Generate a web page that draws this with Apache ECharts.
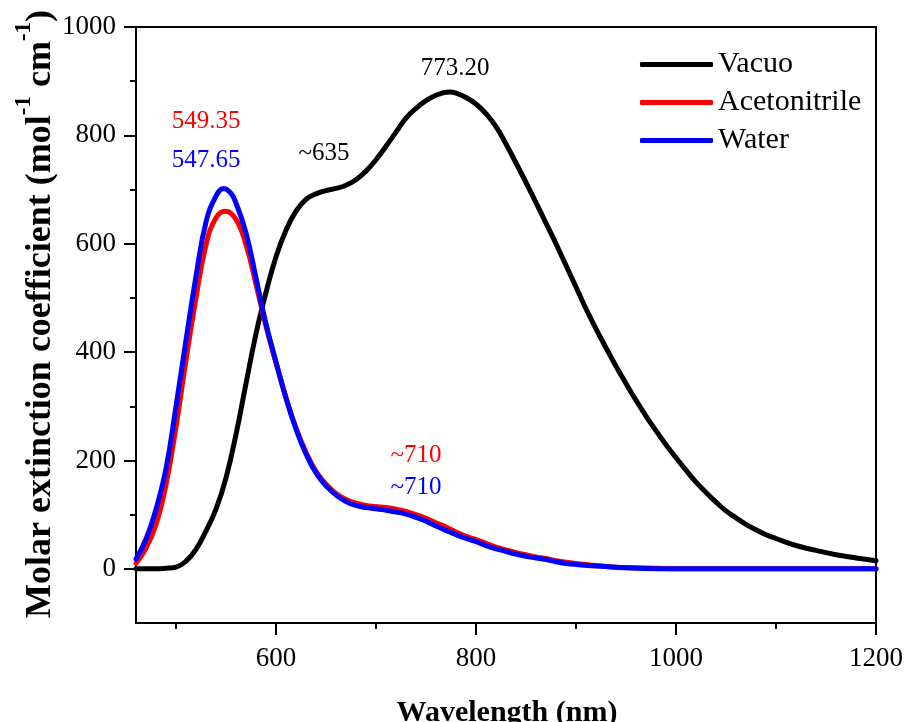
<!DOCTYPE html>
<html>
<head>
<meta charset="utf-8">
<script src="https://cdn.jsdelivr.net/npm/echarts@6/dist/echarts.min.js"></script>
<style>
  html, body { margin: 0; padding: 0; background: #fff; }
  #chart { width: 907px; height: 722px; }
</style>
</head>
<body>
<div id="chart"></div>
<script>
// Absorption spectra: wavelength (nm) vs molar extinction coefficient
const vacuoNm = [460, 480, 490, 500, 510, 520, 530, 540, 550, 560, 570, 580, 590, 600, 610, 620, 630, 640, 650, 660, 670, 680, 690, 700, 710, 720, 730, 740, 750, 760, 773.20, 780, 790, 800, 810, 820, 830, 840, 850, 860, 870, 880, 890, 900, 910, 920, 930, 940, 950, 960, 970, 980, 990, 1000, 1010, 1020, 1030, 1040, 1050, 1060, 1070, 1080, 1090, 1100, 1120, 1140, 1160, 1180, 1200];
const vacuoEps = [0, 0, 1, 3, 14, 36, 70, 110, 168, 248, 342, 434, 510, 576, 625, 660, 682, 692, 698, 702, 708, 718, 734, 755, 780, 806, 832, 850, 864, 874, 880, 878, 870, 858, 840, 816, 784, 749, 713, 676, 638, 600, 560, 520, 480, 443, 408, 374, 342, 311, 282, 255, 229, 205, 182, 160, 141, 123, 107, 94, 82, 72, 63, 56, 43, 34, 26, 20, 15];

const acetonitrileNm = [460, 470, 480, 490, 500, 510, 520, 530, 540, 549.35, 560, 570, 580, 590, 600, 610, 620, 630, 640, 650, 660, 670, 680, 690, 700, 710, 720, 730, 740, 750, 760, 770, 780, 790, 800, 810, 820, 830, 840, 850, 860, 870, 880, 890, 900, 920, 940, 960, 980, 1000, 1100, 1200];
const acetonitrileEps = [10, 38, 82, 155, 262, 385, 500, 598, 648, 660, 645, 598, 525, 448, 380, 316, 260, 215, 180, 156, 139, 128, 121, 117, 115, 113, 110, 106, 100, 93, 85, 77, 68, 60, 54, 47, 40, 35, 30, 26, 22, 19, 15, 12, 10, 6, 3, 2, 1, 0, 0, 0];

const waterNm = [460, 470, 480, 490, 500, 510, 520, 530, 540, 547.65, 555, 560, 570, 580, 590, 600, 610, 620, 630, 640, 650, 660, 670, 680, 690, 700, 710, 720, 730, 740, 750, 760, 770, 780, 790, 800, 810, 820, 830, 840, 850, 860, 870, 880, 890, 900, 920, 940, 960, 1000, 1100, 1200];
const waterEps = [18, 55, 110, 185, 300, 422, 540, 640, 688, 702, 693, 675, 620, 537, 452, 382, 315, 258, 212, 177, 153, 136, 124, 117, 113, 111, 108, 105, 101, 95, 88, 79, 71, 63, 56, 50, 43, 37, 32, 27, 23, 20, 17, 13, 10, 8, 5, 3, 1, 0, 0, 0];

const seriesNames = ['Vacuo', 'Acetonitrile', 'Water'];
const seriesColors = ['#000000', '#ff0000', '#0000ff'];

// Band labels: [text, wavelength, epsilon] placed in data space
const vacuoNotes = [['773.20', 779, 923], ['~635', 648, 766]];
const acetonitrileNotes = [['549.35', 530, 825], ['~710', 740, 210]];
const waterNotes = [['547.65', 530, 753], ['~710', 740, 151]];

const xMajor = [600, 800, 1000, 1200];
const xMinor = [500, 700, 900, 1100];
const yMajor = [0, 200, 400, 600, 800, 1000];
const yMinor = [100, 300, 500, 700, 900];

const FONT = '"Liberation Serif", "Times New Roman", serif';

function pairs(xs, ys) { return xs.map((x, i) => [x, ys[i]]); }

function notes(list, color) {
  return {
    symbol: 'circle',
    symbolSize: 0,
    silent: true,
    label: {
      show: true, position: 'inside', color: color,
      fontFamily: FONT, fontSize: 25,
      formatter: p => p.name
    },
    data: list.map(n => ({ name: n[0], coord: [n[1], n[2]] }))
  };
}

function lineSeries(name, data, color, noteList) {
  return {
    name: name, type: 'line', data: data,
    xAxisIndex: 0, yAxisIndex: 0,
    smooth: 0.45,
    showSymbol: false, symbol: 'none',
    lineStyle: { color: color, width: 5, cap: 'round', join: 'round' },
    itemStyle: { color: color },
    markPoint: notes(noteList, color),
    z: 2
  };
}

const plain = v => String(v);
const axisLine = { show: true, onZero: false, lineStyle: { color: '#000', width: 2 } };
const noLine = { show: false, onZero: false };
const tickStyle = { width: 2, color: '#000' };

const chart = echarts.init(document.getElementById('chart'), null, { renderer: 'canvas' });
chart.setOption({
  animation: false,
  backgroundColor: '#fff',
  grid: { left: 136, right: 31, top: 27, bottom: 99 },
  legend: {
    data: seriesNames,
    orient: 'vertical',
    left: 635, top: 44,
    icon: 'roundRect',
    itemWidth: 73, itemHeight: 5,
    itemGap: 7,
    textStyle: { fontFamily: FONT, fontSize: 30, color: '#000', lineHeight: 31 }
  },
  xAxis: [
    {
      type: 'value', position: 'bottom', min: 460, max: 1200,
      axisLine: axisLine,
      axisTick: { show: true, inside: false, length: 12, customValues: xMajor, lineStyle: tickStyle },
      axisLabel: { show: true, customValues: xMajor, formatter: plain, margin: 22, fontFamily: FONT, fontSize: 27, color: '#000' },
      splitLine: { show: false }
    },
    {
      type: 'value', position: 'bottom', min: 460, max: 1200,
      axisLine: noLine,
      axisTick: { show: true, inside: false, length: 6, customValues: xMinor, lineStyle: tickStyle },
      axisLabel: { show: false },
      splitLine: { show: false }
    },
    {
      type: 'value', position: 'top', min: 460, max: 1200,
      axisLine: axisLine, axisTick: { show: false }, axisLabel: { show: false }, splitLine: { show: false }
    }
  ],
  yAxis: [
    {
      type: 'value', position: 'left', min: -100, max: 1000,
      axisLine: axisLine,
      axisTick: { show: true, inside: false, length: 12, customValues: yMajor, lineStyle: tickStyle },
      axisLabel: { show: true, customValues: yMajor, formatter: plain, margin: 20, fontFamily: FONT, fontSize: 27, color: '#000' },
      splitLine: { show: false }
    },
    {
      type: 'value', position: 'left', min: -100, max: 1000,
      axisLine: noLine,
      axisTick: { show: true, inside: false, length: 6, customValues: yMinor, lineStyle: tickStyle },
      axisLabel: { show: false },
      splitLine: { show: false }
    },
    {
      type: 'value', position: 'right', min: -100, max: 1000,
      axisLine: axisLine, axisTick: { show: false }, axisLabel: { show: false }, splitLine: { show: false }
    }
  ],
  graphic: [
    {
      type: 'text', x: 507, y: 728, silent: true,
      style: {
        text: 'Wavelength (nm)', fill: '#000',
        font: 'bold 30px ' + FONT,
        align: 'center', verticalAlign: 'bottom'
      }
    },
    {
      type: 'text', x: 36, y: 314, rotation: Math.PI / 2, silent: true,
      style: {
        text: '{m|Molar extinction coefficient (mol}{s|-1}{m| cm}{s|-1}{m|)}',
        fill: '#000',
        align: 'center', verticalAlign: 'middle',
        rich: {
          m: { fontFamily: FONT, fontWeight: 'bold', fontSize: 36, lineHeight: 46, verticalAlign: 'bottom', fill: '#000' },
          s: { fontFamily: FONT, fontWeight: 'bold', fontSize: 23, lineHeight: 46, verticalAlign: 'top', fill: '#000' }
        }
      }
    }
  ],
  series: [
    lineSeries(seriesNames[0], pairs(vacuoNm, vacuoEps), seriesColors[0], vacuoNotes),
    lineSeries(seriesNames[1], pairs(acetonitrileNm, acetonitrileEps), seriesColors[1], acetonitrileNotes),
    lineSeries(seriesNames[2], pairs(waterNm, waterEps), seriesColors[2], waterNotes)
  ]
});
</script>
</body>
</html>
